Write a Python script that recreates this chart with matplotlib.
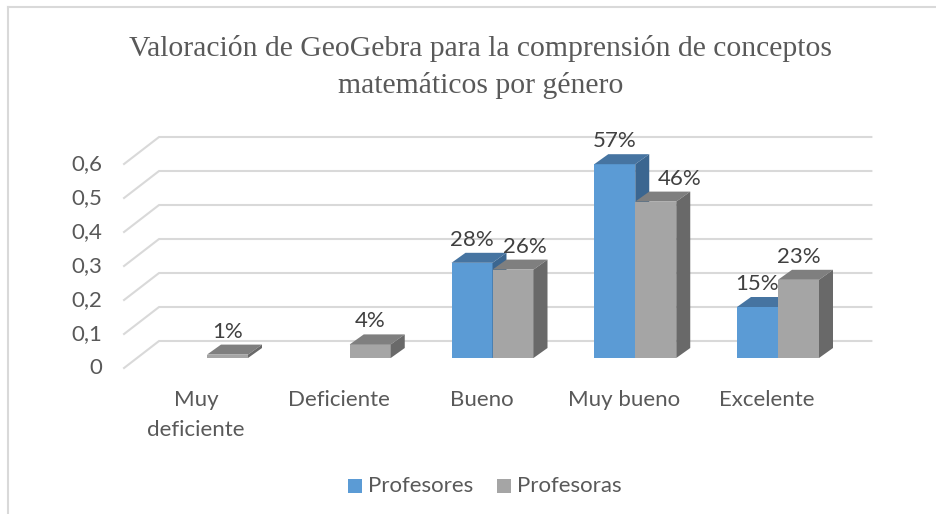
import numpy as np
import matplotlib.pyplot as plt
from matplotlib.patches import Polygon, Rectangle
from matplotlib.lines import Line2D

categorias = ["Muy\ndeficiente", "Deficiente", "Bueno", "Muy bueno", "Excelente"]
series = ["Profesores", "Profesoras"]
profesores = [np.nan, np.nan, 0.28, 0.57, 0.15]
profesoras = [0.01, 0.04, 0.26, 0.46, 0.23]
yticks = [0, 0.1, 0.2, 0.3, 0.4, 0.5, 0.6]
ytick_labels = ["0", "0,1", "0,2", "0,3", "0,4", "0,5", "0,6"]
titulo = "Valoración de GeoGebra para la comprensión de conceptos\nmatemáticos por género"

# colores: frente, tapa, lado
colores = [("#5B9BD5", "#4674A1", "#3B6690"),
           ("#A5A5A5", "#7F7F7F", "#696969")]

W, H = 936, 514
PX_CAT = 142.75   # px por categoria
PX_VAL = 340.0    # px por unidad de valor
X0, Y0 = 194, 368  # pixel de categoria 0 / valor 0 (plano frontal)

def dx(px):
    return px / PX_CAT

def dy(px):
    return px / PX_VAL

plane = (dx(13), dy(10))   # plano de las barras
depth = (dx(14), dy(10))   # profundidad de la barra
wall = (dx(35), dy(27))    # pared del fondo
bar_w = dx(41)

fig = plt.figure(figsize=(W / 100, H / 100), dpi=100)
ax = fig.add_axes([0, 0, 1, 1])
ax.set_xlim(-X0 / PX_CAT, (W - X0) / PX_CAT)
ax.set_ylim((Y0 - H) / PX_VAL, Y0 / PX_VAL)
ax.axis("off")

txt = "#595959"
fnt = "Lato"
fs = 16

# rejilla
x_left, x_right = -0.49, 4.5
for v, lab in zip(yticks, ytick_labels):
    ax.plot([x_left, x_left + wall[0], x_right + wall[0]],
            [v, v + wall[1], v + wall[1]], color="#D9D9D9", lw=1.5, zorder=1)
    ax.text(x_left - dx(22), v, lab, ha="right", va="center",
            fontsize=fs, color=txt, family=fnt)

# barras
n = len(categorias)
for i in range(n):
    for s, vals in enumerate([profesores, profesoras]):
        h = vals[i]
        if np.isnan(h):
            continue
        front, top, side = colores[s]
        x1 = i + plane[0] + (s - 1) * bar_w
        x2 = x1 + bar_w
        y0 = plane[1]
        y1 = y0 + h
        ax.add_patch(Rectangle((x1, y0), bar_w, h, facecolor=front,
                               edgecolor="none", zorder=3))
        ax.add_patch(Polygon([(x1, y1), (x2, y1), (x2 + depth[0], y1 + depth[1]),
                              (x1 + depth[0], y1 + depth[1])],
                             facecolor=top, edgecolor="none", zorder=3))
        ax.add_patch(Polygon([(x2, y0), (x2 + depth[0], y0 + depth[1]),
                              (x2 + depth[0], y1 + depth[1]), (x2, y1)],
                             facecolor=side, edgecolor="none", zorder=3))
        # etiqueta
        shift = 0
        if s == 1 and not np.isnan(profesores[i]):
            if profesores[i] > h + 0.05:
                shift = dx(24)
            elif abs(profesores[i] - h) <= 0.05:
                shift = dx(12)
        ax.text(x1 + bar_w / 2 + shift, y1 + depth[1] + dy(13),
                f"{h:.0%}", ha="center", va="center", fontsize=fs,
                color="#404040", family=fnt, zorder=4)

    ax.text(i + dx(2), dy(-22), categorias[i], ha="center", va="top",
            fontsize=fs, color=txt, family=fnt, linespacing=1.6)

# titulo
fig.text(481 / W, 1 - 67 / H, titulo, ha="center", va="center",
         fontsize=21.3, color=txt, family="Liberation Serif", linespacing=1.45)

# leyenda
leg_y = 1 - 486 / H
for s, name in enumerate(series):
    lx = (348 + s * 149) / W
    fig.patches.append(Rectangle((lx, leg_y - 7 / H), 14 / W, 14 / H,
                                 transform=fig.transFigure,
                                 facecolor=colores[s][0], edgecolor="none"))
    fig.text(lx + 20 / W, leg_y, name, ha="left", va="center",
             fontsize=fs, color=txt, family=fnt)

# borde
fig.add_artist(Line2D([8 / W, 1], [1 - 7 / H, 1 - 7 / H], color="#D9D9D9",
                      lw=1.5, transform=fig.transFigure))
fig.add_artist(Line2D([8 / W, 8 / W], [0, 1 - 7 / H], color="#D9D9D9",
                      lw=1.5, transform=fig.transFigure))

fig.savefig("out.png", dpi=100)
